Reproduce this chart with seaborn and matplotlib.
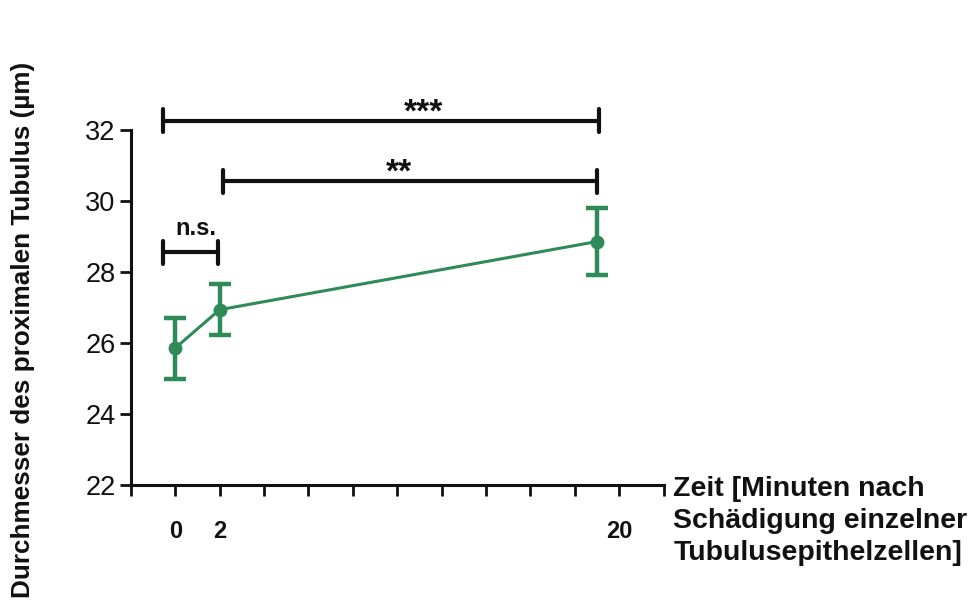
import matplotlib
matplotlib.use("Agg")
import matplotlib.pyplot as plt
import seaborn as sns
import numpy as np
import pandas as pd

# data
minutes = [0, 2, 19]
diameter = [25.85, 26.93, 28.85]
sem = [0.86, 0.72, 0.93]

# significance brackets
sig_x0 = [-0.55, 2.15, -0.55]
sig_x1 = [19.1, 19.0, 1.95]
sig_y = [32.25, 30.55, 28.55]
sig_text = ["***", "**", "n.s."]
sig_text_x = [11.2, 10.1, 0.95]

x_ticks = list(range(-2, 23, 2))
x_labels = {0: "0", 2: "2", 20: "20"}
y_ticks = [22, 24, 26, 28, 30, 32]

green = "#2e8b57"
ink = "#111111"

sns.set_style("ticks")
plt.rcParams['font.family'] = ['Liberation Sans', 'DejaVu Sans']

df = pd.DataFrame({"Zeit": minutes, "Durchmesser": diameter, "sem": sem})

fig = plt.figure(figsize=(9.76, 6.03), dpi=100)
ax = fig.add_axes([0.134, 0.196, 0.546, 0.589])

sns.lineplot(data=df, x="Zeit", y="Durchmesser", color=green, lw=2.2,
             marker="o", markersize=10, markeredgewidth=0, ax=ax, zorder=3)
ax.errorbar(df["Zeit"], df["Durchmesser"], yerr=df["sem"], fmt="none",
            ecolor=green, elinewidth=3.2, capsize=8, capthick=3.2, zorder=3)

for x0, x1, y, t, tx in zip(sig_x0, sig_x1, sig_y, sig_text, sig_text_x):
    h = 0.32
    ax.plot([x0, x1], [y, y], color=ink, lw=3, clip_on=False, solid_capstyle="butt")
    ax.plot([x0, x0], [y - h, y + h], color=ink, lw=3, clip_on=False, solid_capstyle="round")
    ax.plot([x1, x1], [y - h, y + h], color=ink, lw=3, clip_on=False, solid_capstyle="round")
    if t == "n.s.":
        ax.text(tx, y + 0.33, t, ha="center", va="bottom", fontsize=17,
                fontweight="bold", color=ink, clip_on=False)
    else:
        ax.text(tx, y - 0.22, t, ha="center", va="bottom", fontsize=24,
                fontweight="bold", color=ink, clip_on=False)

ax.set_xlim(-2, 22)
ax.set_ylim(22, 32)
ax.set_xticks(x_ticks)
ax.set_xticklabels([x_labels.get(v, "") for v in x_ticks], fontsize=17, fontweight="bold")
for lab, v in zip(ax.get_xticklabels(), x_ticks):
    if v == 20:
        lab.set_x(19.7)
ax.set_yticks(y_ticks)
ax.set_yticklabels([str(v) for v in y_ticks], fontsize=19.5)

ax.tick_params(axis="x", length=8, width=2, pad=17, direction="out", colors=ink)
ax.tick_params(axis="y", length=8, width=2, pad=3, direction="out", colors=ink)
for s in ["left", "bottom"]:
    ax.spines[s].set_linewidth(2.2)
    ax.spines[s].set_color(ink)
sns.despine(ax=ax)

ax.set_xlabel("")
ax.set_ylabel("Durchmesser des proximalen Tubulus (µm)", fontsize=18.8,
              fontweight="bold", color=ink)
ax.yaxis.set_label_coords(-0.18, 0.437)

fig.text(0.69, 0.21, "Zeit [Minuten nach\nSchädigung einzelner\nTubulusepithelzellen]",
         ha="left", va="top", fontsize=20.5, fontweight="bold", linespacing=1.28,
         color=ink)

fig.savefig("out.png", dpi=100)
